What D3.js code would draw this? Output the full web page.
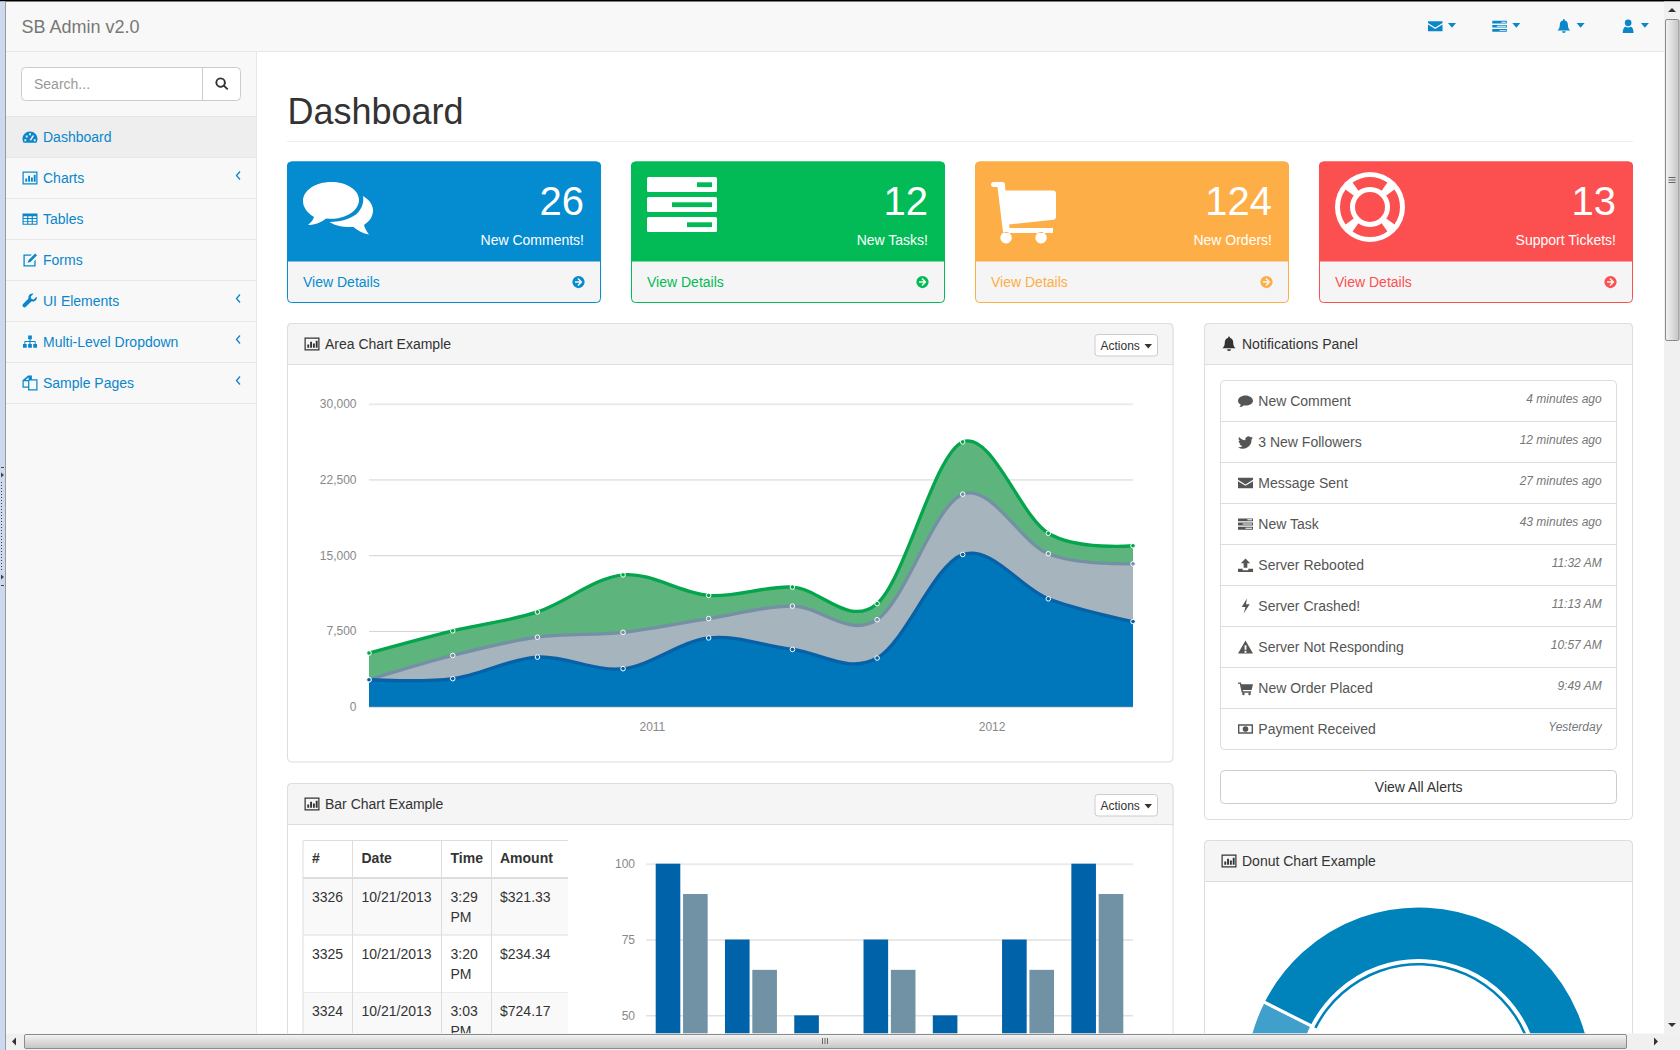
<!DOCTYPE html>
<html lang="en">
<head>
  <meta charset="UTF-8" />
  <title>SB Admin v2.0</title>
  <script src="https://d3js.org/d3.v7.min.js"></script>
  <style>
    html, body { margin: 0; padding: 0; overflow: hidden; background: #fff; }
    svg { display: block; }
    text { font-family: "Liberation Sans", Arial, sans-serif; }
    .tick text { font-family: "Liberation Sans", Arial, sans-serif; }
  </style>
</head>
<body>
  <svg id="page" width="1680" height="1050"></svg>

  <script>
    // area chart values
    const areaDates = ["2010-01-01", "2010-04-01", "2010-07-01", "2010-10-01", "2011-01-01",
                       "2011-04-01", "2011-07-01", "2011-10-01", "2012-01-01", "2012-04-01"];
    const iphoneVals = [2666, 2778, 4912, 3767, 6810, 5670, 4820, 15073, 10687, 8432];
    const ipadVals = [0, 2294, 1969, 3597, 1914, 4293, 3795, 5967, 4460, 5713];
    const itouchVals = [2647, 2441, 2501, 5689, 2293, 1881, 1588, 5175, 2028, 1791];
    const areaYTicks = [0, 7500, 15000, 22500, 30000];
    const areaXTickDates = ["2010-11-01", "2011-11-01"];
    const areaXTickLabels = ["2011", "2012"];

    // bar chart values
    const barYears = ["2006", "2007", "2008", "2009", "2010", "2011", "2012"];
    const barSeriesA = [100, 75, 50, 75, 50, 75, 100];
    const barSeriesB = [90, 65, 40, 65, 40, 65, 90];
    const barYTicks = [50, 75, 100];

    // donut values
    const donutLabels = ["Download Sales", "In-Store Sales", "Mail-Order Sales"];
    const donutValues = [12, 30, 20];
    const donutColors = ["#41a0cb", "#0082bb", "#00699c"];

    // page contents
    const navNames = ["Dashboard", "Charts", "Tables", "Forms", "UI Elements", "Multi-Level Dropdown", "Sample Pages"];
    const navIcons = ["dash", "bars", "table", "edit", "wrench", "sitemap", "files"];
    const navHasArrow = [false, true, false, false, true, true, true];
    const cardNumbers = ["26", "12", "124", "13"];
    const cardLabels = ["New Comments!", "New Tasks!", "New Orders!", "Support Tickets!"];
    const cardColors = ["#058bcf", "#02bb56", "#feae46", "#fc5050"];
    const noteTexts = ["New Comment", "3 New Followers", "Message Sent", "New Task", "Server Rebooted",
                       "Server Crashed!", "Server Not Responding", "New Order Placed", "Payment Received"];
    const noteTimes = ["4 minutes ago", "12 minutes ago", "27 minutes ago", "43 minutes ago", "11:32 AM",
                       "11:13 AM", "10:57 AM", "9:49 AM", "Yesterday"];
    const noteIcons = ["comment", "twitter", "envelope", "tasks", "upload", "bolt", "warning", "cart", "money"];
    const tableHead = ["#", "Date", "Time", "Amount"];
    const tableIds = ["3326", "3325", "3324"];
    const tableDates = ["10/21/2013", "10/21/2013", "10/21/2013"];
    const tableTimes = ["3:29", "3:20", "3:03"];
    const tableAmounts = ["$321.33", "$234.34", "$724.17"];

    // 16x16 glyphs, the icon font is not available
    const icons = {
      dash: "M8 2C3.6 2 0 5.600 0 10c0 1.500.5 3 1.300 4h13.400c.8-1 1.300-2.500 1.300-4 0-4.400-3.600-8-8-8zM7 4h2v2H7zM3.500 6.500h2v2h-2zM2 10.500h2v2H2zM12 10.500h2v2h-2zM10.500 6.500h2l-3 5h-2z",
      bars: "M0 1h16v14H0zM1.300 2.300v11.400h13.400V2.300zM3 8.500h2V12H3zM6 5.500h2V12H6zM9 7.500h2V12H9zM12 4.500h2V12h-2z",
      table: "M0 2h16v12H0zM1.200 5v2h3.800V5zM6.200 5v2h3.600V5zM11 5v2h3.800V5zM1.200 8v2h3.800V8zM6.200 8v2h3.600V8zM11 8v2h3.800V8zM1.200 11v2h3.800v-2zM6.200 11v2h3.600v-2zM11 11v2h3.800v-2z",
      edit: "M2 2h8l-1.400 1.400H2.400v10.200h10.200V9l1.400-1.400V15H1V2zM13.500 1l2 2-7 7-3 1 1-3z",
      wrench: "M15 3.500l-3 3-2.500-.7-.7-2.500 3-3C9.500-.4 7 .9 6.400 3.200c-.2.8-.2 1.500 0 2.200L.6 11.200c-.8.8-.8 2.200 0 3 .8.8 2.200.8 3 0l5.800-5.800c2.600.8 5.300-.8 5.900-3.400.1-.5.1-1-.3-1.500z",
      sitemap: "M6 1h4v4H8.600v2H14v3h1.500v4h-4v-4H13V8H8.600v2H10v4H6v-4h1.400V8H3v2h1.500v4h-4v-4H2V7h5.400V5H6z",
      files: "M6 0h4v4h6v12H6v-3H0V5zM1.300 6v5.700h4.700V6zM7.300 5.300v9.400h7.400V5.300zM6.500 1.800L3.200 4.800h3.300z",
      comment: "M8 2C3.600 2 0 4.500 0 7.600c0 1.800 1.200 3.400 3 4.400-.2 1-.8 1.900-1.500 2.600 1.600-.2 3.200-.9 4.300-1.900.7.100 1.400.2 2.200.2 4.400 0 8-2.400 8-5.300S12.400 2 8 2z",
      twitter: "M16 3.500c-.6.3-1.200.4-1.900.5.7-.4 1.200-1 1.400-1.800-.6.4-1.300.7-2.100.8a3.300 3.300 0 0 0-5.600 3C5.100 5.900 2.700 4.600 1.100 2.600c-.9 1.500-.4 3.400 1 4.400-.5 0-1-.2-1.500-.4 0 1.600 1.100 3 2.600 3.300-.5.100-1 .1-1.500 0 .4 1.300 1.600 2.300 3.100 2.300A6.600 6.600 0 0 1 0 13.500 9.300 9.300 0 0 0 14.400 5.200c.6-.5 1.200-1 1.600-1.700z",
      envelope: "M0 2.500h16v2L8 9.500 0 4.500zM0 6l8 5 8-5v7.500H0z",
      tasks: "M0 2h16v3H0zM10 3h5v1h-5zM0 6.500h16v3H0zM5 7.500h10v1H5zM0 11h16v3H0zM8 12h7v1H8z",
      upload: "M8 1l5 5h-3v5H6V6H3zM0 12h5v1.500h6V12h5v3.500H0z",
      bolt: "M9.500 0L4 9h4l-2 7 6.500-10H8.500z",
      warning: "M8 1l8 14H0zM7 6h2v5H7zM7 12h2v2H7z",
      cart: "M0 2h3l.6 2H16l-1.500 6H5l.4 1.500H14V13H4L1.900 3.500H0zM4.500 14.300a1.300 1.300 0 1 0 2.600 0a1.300 1.300 0 1 0-2.600 0zM11 14.300a1.300 1.300 0 1 0 2.600 0a1.300 1.300 0 1 0-2.600 0z",
      money: "M0 3h16v10H0zM1.500 4.500v7h13v-7zM5 8a3 3 0 1 0 6 0a3 3 0 1 0-6 0z",
      bell: "M8 0c.6 0 1 .4 1 1v.6c2.500.5 3.500 2.500 3.500 5 0 3 1 4.500 2.500 6H1c1.500-1.500 2.500-3 2.500-6 0-2.500 1-4.500 3.500-5V1c0-.6.4-1 1-1zM6 13.500h4a2 2 0 0 1-4 0z",
      user: "M8 .5a3.700 3.700 0 1 0 0 7.400 3.700 3.700 0 0 0 0-7.400zM2 15.500c0-4.500 1.500-6.500 3-7 1.800 1.200 4.200 1.200 6 0 1.500.5 3 2.500 3 7z",
      search: "M6.500 1a5.500 5.500 0 1 0 3.300 9.900l3.600 3.600 1.400-1.400-3.600-3.600A5.500 5.500 0 0 0 6.500 1zM6.500 3a3.500 3.500 0 1 1 0 7 3.500 3.500 0 0 1 0-7z",
      go: "M8 1a7 7 0 1 0 0 14A7 7 0 0 0 8 1zM8 3.500l4.500 4.500L8 12.500 6.800 11.300l2.400-2.400H4V7.100h5.200L6.800 4.700z"
    };

    const svg = d3.select("#page");
    svg.append("rect").attr("width", 1680).attr("height", 1050).attr("fill", "#fff");

    const defs = svg.append("defs");
    defs.append("clipPath").attr("id", "viewClip").append("rect")
      .attr("x", 6).attr("y", 1).attr("width", 1658).attr("height", 1032.500);
    const barGrad = defs.append("linearGradient").attr("id", "hThumb").attr("x2", 0).attr("y2", 1);
    barGrad.append("stop").attr("offset", 0).attr("stop-color", "#f4f4f4");
    barGrad.append("stop").attr("offset", 1).attr("stop-color", "#c4c4c4");
    const vGrad = defs.append("linearGradient").attr("id", "vThumb");
    vGrad.append("stop").attr("offset", 0).attr("stop-color", "#f4f4f4");
    vGrad.append("stop").attr("offset", 1).attr("stop-color", "#c4c4c4");

    const root = svg.append("g").attr("clip-path", "url(#viewClip)");

    function txt(parent, x, y, s, size, color, opts = {}) {
      return parent.append("text")
        .attr("x", x).attr("y", y)
        .attr("font-size", size)
        .attr("fill", color)
        .attr("text-anchor", opts.anchor || "start")
        .attr("font-weight", opts.weight || "normal")
        .attr("font-style", opts.style || "normal")
        .text(s);
    }

    function icon(parent, name, x, y, size, color) {
      parent.append("path")
        .attr("d", icons[name])
        .attr("fill", color)
        .attr("fill-rule", "evenodd")
        .attr("transform", `translate(${x},${y}) scale(${size / 16})`);
    }

    function caret(parent, x, y, w, color) {
      parent.append("path")
        .attr("d", `M${x} ${y}h${w}l${-w / 2} ${w * 0.6}z`)
        .attr("fill", color);
    }

    function hline(parent, x0, x1, y, color, width = 1) {
      parent.append("line")
        .attr("x1", x0).attr("x2", x1).attr("y1", y).attr("y2", y)
        .attr("stroke", color).attr("stroke-width", width);
    }

    function vline(parent, x, y0, y1, color) {
      parent.append("line")
        .attr("x1", x).attr("x2", x).attr("y1", y0).attr("y2", y1)
        .attr("stroke", color).attr("stroke-width", 1);
    }

    function panel(x0, x1, y0, headBottom, y1, iconName, title) {
      root.append("rect")
        .attr("x", x0).attr("y", y0).attr("width", x1 - x0).attr("height", y1 - y0)
        .attr("rx", 4).attr("fill", "#fff").attr("stroke", "#ddd");
      root.append("path")
        .attr("d", `M${x0} ${headBottom}V${y0 + 4}a4 4 0 0 1 4-4H${x1 - 4}a4 4 0 0 1 4 4V${headBottom}z`)
        .attr("fill", "#f5f5f5").attr("stroke", "#ddd");
      icon(root, iconName, x0 + 17, y0 + 13, 15, "#333");
      txt(root, x0 + 37.500, y0 + 25.500, title, 14, "#333");
    }

    function actionsButton(x0, y0) {
      root.append("rect")
        .attr("x", x0).attr("y", y0).attr("width", 62.500).attr("height", 21.500)
        .attr("rx", 3).attr("fill", "#fff").attr("stroke", "#ccc");
      txt(root, x0 + 5.500, y0 + 15, "Actions", 12, "#333");
      caret(root, x0 + 49.500, y0 + 9.500, 7.500, "#333");
    }

    // top bar and sidebar
    root.append("rect").attr("x", 6).attr("y", 1).attr("width", 1658).attr("height", 50.500).attr("fill", "#f8f8f8");
    hline(root, 6, 1664, 51.500, "#e7e7e7");
    txt(root, 21.500, 33, "SB Admin v2.0", 18, "#777");
    root.append("rect").attr("x", 6).attr("y", 52).attr("width", 250.500).attr("height", 1000).attr("fill", "#f8f8f8");
    vline(root, 256.500, 52, 1034, "#e7e7e7");

    const topIcons = ["envelope", "tasks", "bell", "user"];
    topIcons.forEach((name, i) => {
      const x = 1428 + i * 64.300;
      icon(root, name, x, 19, 14.500, "#0a86cb");
      caret(root, x + 20, 23, 8, "#0a86cb");
    });

    root.append("rect")
      .attr("x", 21.500).attr("y", 67.500).attr("width", 219).attr("height", 33)
      .attr("rx", 4).attr("fill", "#fff").attr("stroke", "#ccc");
    vline(root, 202.500, 67.500, 100.500, "#ccc");
    txt(root, 34, 89, "Search...", 14, "#999");
    icon(root, "search", 214.500, 76.500, 15, "#333");

    const navY = d3.scalePoint().domain(navNames).range([137, 383]);
    root.append("rect").attr("x", 6).attr("y", 116.500).attr("width", 250).attr("height", 41).attr("fill", "#eee");
    hline(root, 6, 256, 116.500, "#e7e7e7");
    navNames.forEach((name, i) => {
      const yc = navY(name);
      hline(root, 6, 256, yc + 20.500, "#e7e7e7");
      icon(root, navIcons[i], 22.500, yc - 7.500, 15, "#0a86cb");
      txt(root, 43, yc + 5, name, 14, "#0a86cb");
      if (navHasArrow[i]) {
        root.append("path")
          .attr("d", `M240 ${yc - 6.500}l-3.500 4 3.500 4`)
          .attr("fill", "none").attr("stroke", "#0a86cb").attr("stroke-width", 1.300);
      }
    });

    txt(root, 287.500, 124, "Dashboard", 36, "#333");
    hline(root, 287, 1633, 141.500, "#eee");

    // stat cards
    const cardX = d3.scaleOrdinal().domain(cardNumbers).range([287.500, 631.500, 975.500, 1319.500]);
    cardNumbers.forEach((num, i) => {
      const x0 = cardX(num), w = 313, c = cardColors[i];
      root.append("rect").attr("x", x0).attr("y", 162).attr("width", w).attr("height", 140.500)
        .attr("rx", 4).attr("fill", "#f5f5f5").attr("stroke", c);
      root.append("path")
        .attr("d", `M${x0} 261V166a4 4 0 0 1 4-4H${x0 + w - 4}a4 4 0 0 1 4 4V261z`)
        .attr("fill", c).attr("stroke", c);
      txt(root, x0 + w - 16.500, 215, num, 40, "#fff", { anchor: "end" });
      txt(root, x0 + w - 16.500, 245, cardLabels[i], 14, "#fff", { anchor: "end" });
      txt(root, x0 + 15.500, 287, "View Details", 14, c);
      icon(root, "go", x0 + w - 29, 275, 14, c);
    });

    // big card glyphs
    const bigComments = root.append("g").attr("fill", "#fff").attr("transform", "translate(303,182)");
    bigComments.append("path")
      .attr("d", "M28 0C12.500 0 0 8.500 0 19c0 6.500 4.500 12 11 16-1 3-3 5.500-6 8 7 0 13-2.500 18-6.500 1.700.2 3.400.3 5 .3 15.500 0 28-8.500 28-18.800S43.500 0 28 0z");
    bigComments.append("path")
      .attr("d", "M60 14c6 3.500 10 8.500 10 14.500 0 6-3.500 11-9 14.500.8 2.800 2.300 6 5 9.500-6-1-11.500-3.800-15.500-7.500-8 .5-17-.5-24-5 12 0 24-4 29-10 3.500-4.500 5.500-9.500 4.500-16z");

    const bigTasks = [[177, 697], [197, 672], [217, 687]];
    bigTasks.forEach(([y, hx]) => {
      root.append("rect").attr("x", 647).attr("y", y).attr("width", 70).attr("height", 15).attr("rx", 1.500).attr("fill", "#fff");
      root.append("rect").attr("x", hx).attr("y", y + 5.300).attr("width", 712 - hx).attr("height", 4.800).attr("fill", cardColors[1]);
    });

    root.append("path")
      .attr("fill", "#fff")
      .attr("transform", "translate(991,182)")
      .attr("d", "M0 2.500C0 1 1 0 2.500 0h9c1.500 0 2.300.8 2.500 2.500l.4 6H62c1.800 0 3 1.200 3 3V35c0 1.500-1 2.500-2.500 2.800L18 42.500l.7 3.500H62V51H14.500C13 51 12 50 11.800 48.800L6.500 5H2.500C1 5 0 4 0 2.500zM15 50a5.700 5.700 0 1 0 .1 0zM50 50a5.700 5.700 0 1 0 .1 0z");

    const ring = root.append("g").attr("transform", "translate(1370,207)");
    ring.append("circle").attr("r", 35).attr("fill", "#fff");
    const ringArc = d3.arc().innerRadius(20).outerRadius(30);
    d3.range(4).forEach(i => {
      const mid = i * Math.PI / 2;
      ring.append("path")
        .attr("d", ringArc({ startAngle: mid - 0.62, endAngle: mid + 0.62 }))
        .attr("fill", cardColors[3]);
    });
    ring.append("circle").attr("r", 15).attr("fill", cardColors[3]);

    // area chart
    panel(287.500, 1173, 323.500, 364.500, 762, "bars", "Area Chart Example");
    actionsButton(1095, 334.500);

    const parseDay = d3.utcParse("%Y-%m-%d");
    const areaX = d3.scaleUtc()
      .domain(d3.extent(areaDates, parseDay))
      .range([369, 1133]);
    const areaY = d3.scaleLinear().domain([0, 30000]).range([706.700, 403.700]);

    const areaAxis = root.append("g").attr("transform", "translate(369,0)")
      .call(d3.axisLeft(areaY).tickValues(areaYTicks).tickSize(-764).tickPadding(12.500).tickFormat(d3.format(",")));
    areaAxis.select(".domain").remove();
    areaAxis.selectAll(".tick line").attr("stroke", d => d === 30000 ? "#ebebeb" : "#d2d2d2").attr("stroke-width", d => d === 30000 ? 2 : 1);
    areaAxis.selectAll(".tick text").attr("font-size", 12).attr("fill", "#888");

    const areaXAxis = root.append("g").attr("transform", "translate(0,706.700)")
      .call(d3.axisBottom(areaX)
        .tickValues(areaXTickDates.map(parseDay))
        .tickSize(0).tickPadding(15.500)
        .tickFormat((d, i) => areaXTickLabels[i]));
    areaXAxis.select(".domain").remove();
    areaXAxis.selectAll(".tick text").attr("font-size", 12).attr("fill", "#888");

    const areaPoints = areaDates.map((d, i) => ({
      date: parseDay(d),
      s0: iphoneVals[i],
      s1: iphoneVals[i] + ipadVals[i],
      s2: iphoneVals[i] + ipadVals[i] + itouchVals[i]
    }));
    const areaLayers = [
      { key: "s2", fill: "#5db57d", line: "#04a54d" },
      { key: "s1", fill: "#a6b4be", line: "#7590a5" },
      { key: "s0", fill: "#0076bb", line: "#0761a6" }
    ];
    const smooth = d3.curveCardinal.tension(0);
    areaLayers.forEach(layer => {
      root.append("path").datum(areaPoints)
        .attr("fill", layer.fill)
        .attr("d", d3.area().x(d => areaX(d.date)).y0(areaY(0)).y1(d => areaY(d[layer.key])).curve(smooth));
      root.append("path").datum(areaPoints)
        .attr("fill", "none").attr("stroke", layer.line).attr("stroke-width", 3.300)
        .attr("d", d3.line().x(d => areaX(d.date)).y(d => areaY(d[layer.key])).curve(smooth));
    });
    areaLayers.forEach(layer => {
      root.append("g").selectAll("circle").data(areaPoints).join("circle")
        .attr("cx", d => areaX(d.date)).attr("cy", d => areaY(d[layer.key]))
        .attr("r", 2.300).attr("fill", layer.line).attr("stroke", "#fff").attr("stroke-width", 1);
    });

    // bar panel with table
    panel(287.500, 1173, 783.500, 824.500, 1100, "bars", "Bar Chart Example");
    actionsButton(1095, 794.500);

    const colLines = [303, 352.500, 441.500, 491.500];
    const rowTops = [879, 935, 992.500];
    const rowBottoms = [935, 992.500, 1050];
    rowTops.forEach((top, i) => {
      if (i % 2 === 0) {
        root.append("rect").attr("x", 303).attr("y", top).attr("width", 265).attr("height", rowBottoms[i] - top).attr("fill", "#f9f9f9");
      }
      hline(root, 303, 568, rowBottoms[i], "#ddd");
    });
    hline(root, 303, 568, 840.500, "#ddd");
    hline(root, 303, 568, 878, "#ddd", 2);
    colLines.forEach(x => vline(root, x, 840.500, 1040, "#ddd"));
    const colText = [312, 361.500, 450.500, 500];
    tableHead.forEach((h, i) => txt(root, colText[i], 863, h, 14, "#333", { weight: "bold" }));
    tableIds.forEach((id, i) => {
      const base = [901.700, 958.700, 1015.700][i];
      txt(root, colText[0], base, id, 14, "#333");
      txt(root, colText[1], base, tableDates[i], 14, "#333");
      txt(root, colText[2], base, tableTimes[i], 14, "#333");
      txt(root, colText[2], base + 20, "PM", 14, "#333");
      txt(root, colText[3], base, tableAmounts[i], 14, "#333");
    });

    const barX = d3.scaleBand().domain(barYears).range([646, 1133]).paddingInner(0.25).paddingOuter(0.14);
    const barInner = d3.scaleBand().domain(["a", "b"]).range([0, barX.bandwidth()]).paddingInner(0.1);
    const barY = d3.scaleLinear().domain([0, 100]).range([1167, 863.700]);
    const barAxis = root.append("g").attr("transform", "translate(646,0)")
      .call(d3.axisLeft(barY).tickValues(barYTicks).tickSize(-487).tickPadding(11));
    barAxis.select(".domain").remove();
    barAxis.selectAll(".tick line").attr("stroke", d => d === 100 ? "#ebebeb" : "#d2d2d2").attr("stroke-width", d => d === 100 ? 2 : 1);
    barAxis.selectAll(".tick text").attr("font-size", 12).attr("fill", "#888");

    root.append("g").selectAll("rect").data(barYears).join("rect")
      .attr("x", d => barX(d) + barInner("a")).attr("width", barInner.bandwidth())
      .attr("y", (d, i) => barY(barSeriesA[i])).attr("height", (d, i) => barY(0) - barY(barSeriesA[i]))
      .attr("fill", "#0062a8");
    root.append("g").selectAll("rect").data(barYears).join("rect")
      .attr("x", d => barX(d) + barInner("b")).attr("width", barInner.bandwidth())
      .attr("y", (d, i) => barY(barSeriesB[i])).attr("height", (d, i) => barY(0) - barY(barSeriesB[i]))
      .attr("fill", "#7192a5");

    // notifications
    panel(1204.500, 1632.500, 323.500, 364.500, 819.500, "bell", "Notifications Panel");
    root.append("rect").attr("x", 1220.500).attr("y", 380.500).attr("width", 396).attr("height", 369)
      .attr("rx", 4).attr("fill", "#fff").attr("stroke", "#ddd");
    const noteY = d3.scaleBand().domain(noteTexts).range([380.500, 749.500]);
    noteTexts.forEach((name, i) => {
      const y0 = noteY(name);
      if (i > 0) hline(root, 1221, 1616, y0, "#ddd");
      icon(root, noteIcons[i], 1238, y0 + 13, 15, "#555");
      txt(root, 1258.300, y0 + 25.500, name, 14, "#555");
      txt(root, 1601.700, y0 + 22, noteTimes[i], 12, "#777", { anchor: "end", style: "italic" });
    });
    root.append("rect").attr("x", 1220.500).attr("y", 770.500).attr("width", 396).attr("height", 33)
      .attr("rx", 4).attr("fill", "#fff").attr("stroke", "#ccc");
    txt(root, 1418.700, 792, "View All Alerts", 14, "#333", { anchor: "middle" });

    // donut
    panel(1204.500, 1632.500, 840.500, 881.500, 1100, "bars", "Donut Chart Example");
    const donutStart = 227.100 * Math.PI / 180;
    const donutPie = d3.pie().sort(null).startAngle(donutStart).endAngle(donutStart + 2 * Math.PI);
    const donutArcs = donutPie(donutValues);
    const donut = root.append("g").attr("transform", "translate(1418.700,1080)");
    const outerArc = d3.arc().innerRadius(119.500).outerRadius(174);
    donut.selectAll("path.seg").data(donutArcs).join("path")
      .attr("class", "seg")
      .attr("d", outerArc)
      .attr("fill", (d, i) => donutColors[i])
      .attr("stroke", "#fff").attr("stroke-width", 3);
    // thin ring under the selected slice
    donut.append("path")
      .attr("d", d3.arc().innerRadius(114.500).outerRadius(117)(donutArcs[donutLabels.indexOf("In-Store Sales")]))
      .attr("fill", donutColors[1]);

    // window chrome
    svg.append("rect").attr("x", 0).attr("y", 0).attr("width", 1680).attr("height", 1.500).attr("fill", "#000");
    svg.append("rect").attr("x", 0).attr("y", 1.500).attr("width", 5).attr("height", 1049).attr("fill", "#ccd9ef");
    svg.append("rect").attr("x", 5).attr("y", 1.500).attr("width", 1).attr("height", 1049).attr("fill", "#9a9a9a");
    svg.append("g").selectAll("rect").data(d3.range(30)).join("rect")
      .attr("x", 1).attr("y", d => 482 + d * 3).attr("width", 1).attr("height", 1).attr("fill", "#444");
    hline(svg, 1, 4, 467.500, "#444");
    hline(svg, 1, 4, 585.500, "#444");
    svg.append("path").attr("d", "M1 472.500l3 2.500-3 2.500z").attr("fill", "#444");
    svg.append("path").attr("d", "M1 574.500l3 2.500-3 2.500z").attr("fill", "#444");

    svg.append("rect").attr("x", 1664).attr("y", 1.500).attr("width", 16).attr("height", 1032).attr("fill", "#f0f0f0");
    svg.append("rect").attr("x", 1665.500).attr("y", 19.500).attr("width", 13.500).attr("height", 321)
      .attr("rx", 1.500).attr("fill", "url(#vThumb)").attr("stroke", "#8c8c8c");
    svg.append("path").attr("d", "M1668 12l4-4 4 4z").attr("fill", "#333");
    svg.append("path").attr("d", "M1668 1023l4 4 4-4z").attr("fill", "#333");
    d3.range(3).forEach(i => hline(svg, 1668.500, 1675.500, 177.500 + i * 2.500, "#666"));

    svg.append("rect").attr("x", 6).attr("y", 1033.500).attr("width", 1674).attr("height", 16.500).attr("fill", "#f0f0f0");
    svg.append("rect").attr("x", 24.500).attr("y", 1034.500).attr("width", 1602).attr("height", 14)
      .attr("rx", 1.500).attr("fill", "url(#hThumb)").attr("stroke", "#8c8c8c");
    svg.append("path").attr("d", "M16 1037.500l-4 4 4 4z").attr("fill", "#333");
    svg.append("path").attr("d", "M1654 1037.500l4 4-4 4z").attr("fill", "#333");
    d3.range(3).forEach(i => vline(svg, 822.500 + i * 2.500, 1038, 1044, "#666"));
  </script>
</body>
</html>
